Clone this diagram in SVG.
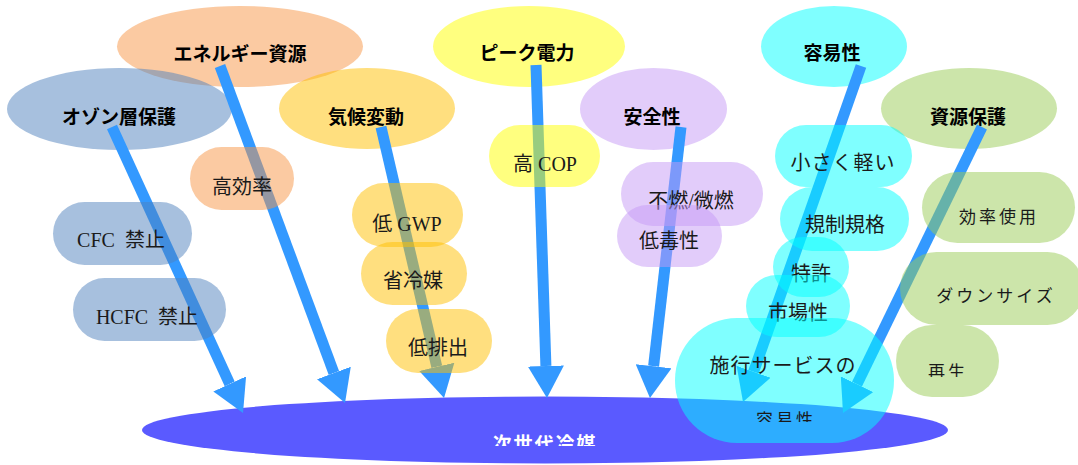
<svg xmlns="http://www.w3.org/2000/svg" width="1078" height="465" viewBox="0 0 1078 465">
<style>
.t{font-family:"Noto Sans CJK JP","Noto Sans",sans-serif;font-weight:bold;font-size:19px;fill:#000;text-anchor:middle}
.p{font-family:"Liberation Serif","Noto Sans CJK JP",serif;font-size:20px;fill:#1a1a1a;text-anchor:middle}
.s{font-family:"Liberation Serif","Noto Sans CJK JP",serif;font-size:17px;fill:#1a1a1a;text-anchor:middle;letter-spacing:3px}
.org{fill:#F79646;opacity:.5}
.blu{fill:#4F81BD;opacity:.5}
.gld{fill:#FFC000;opacity:.5}
.yel{fill:#FFFF00;opacity:.5}
.pur{fill:#C69AF5;opacity:.5}
.cya{fill:#00FFFF;opacity:.5}
.grn{fill:#99CC55;opacity:.5}
.arr{stroke:#3399FF;stroke-width:11;fill:none;marker-end:url(#ah)}
</style>
<defs>
<marker id="ah" viewBox="0 0 10 10" refX="0" refY="5" markerUnits="userSpaceOnUse" markerWidth="32" markerHeight="36" orient="auto" preserveAspectRatio="none">
<path d="M0,0 L10,5 L0,10 z" fill="#3399FF"/>
</marker>
<clipPath id="c1"><rect x="0" y="0" width="1078" height="446"/></clipPath>
<clipPath id="c2"><rect x="0" y="0" width="1078" height="422"/></clipPath>
<clipPath id="c3"><rect x="0" y="0" width="1078" height="377"/></clipPath>
</defs>

<g id="energy"><ellipse class="org" cx="240" cy="46.5" rx="123" ry="40.5"/><text class="t" x="240" y="61">エネルギー資源</text></g>
<g id="ozone"><ellipse class="blu" cx="119.5" cy="109" rx="112.5" ry="41"/><text class="t" x="119" y="124">オゾン層保護</text></g>
<g id="climate"><ellipse class="gld" cx="367" cy="108.5" rx="88" ry="40.5"/><text class="t" x="366" y="124">気候変動</text></g>
<g id="peak"><ellipse class="yel" cx="529" cy="46.5" rx="96" ry="40.5"/><text class="t" x="527" y="60">ピーク電力</text></g>
<g id="safety"><ellipse class="pur" cx="653.5" cy="109" rx="73.5" ry="41"/><text class="t" x="652" y="124">安全性</text></g>
<g id="ease"><ellipse class="cya" cx="834" cy="46.5" rx="73" ry="40.5"/><text class="t" x="832" y="60">容易性</text></g>
<g id="resource"><ellipse class="grn" cx="969" cy="108.5" rx="88" ry="40.5"/><text class="t" x="968" y="124">資源保護</text></g>

<g id="next-refrigerant"><ellipse cx="545" cy="430" rx="403" ry="33.5" fill="#5A5AFF"/><text class="t" x="545" y="451" style="fill:#fff;letter-spacing:2px" clip-path="url(#c1)">次世代冷媒</text></g>

<g id="connectors">
<line class="arr" x1="112" y1="127" x2="229.7" y2="383.9"/>
<line class="arr" x1="220" y1="66" x2="333.9" y2="373"/>
<line class="arr" x1="381" y1="127" x2="436.8" y2="366.8"/>
<line class="arr" x1="536" y1="65" x2="545.9" y2="366"/>
<line class="arr" x1="681" y1="127" x2="653.6" y2="366.2"/>
<line class="arr" x1="861" y1="66" x2="753.6" y2="371.8"/>
<line class="arr" x1="982" y1="127" x2="857" y2="384.2"/>
</g>

<g id="high-eff"><rect class="org" x="190" y="147" width="104" height="63" rx="31.5"/><text class="p" x="242" y="194">高効率</text></g>
<g id="cfc"><rect class="blu" x="53" y="202" width="139" height="63" rx="31.5"/><text class="p" x="121" y="247" xml:space="preserve">CFC  禁止</text></g>
<g id="hcfc"><rect class="blu" x="73" y="278" width="153" height="63" rx="31.5"/><text class="p" x="147" y="324" xml:space="preserve">HCFC  禁止</text></g>
<g id="low-gwp"><rect class="gld" x="352" y="183" width="111" height="64" rx="32"/><text class="p" x="407" y="231">低 GWP</text></g>
<g id="less-ref"><rect class="gld" x="361" y="242" width="106" height="63" rx="31.5"/><text class="p" x="413" y="288">省冷媒</text></g>
<g id="low-emit"><rect class="gld" x="386" y="309" width="106" height="64" rx="32"/><text class="p" x="438" y="355">低排出</text></g>
<g id="high-cop"><rect class="yel" x="489" y="125" width="111" height="62" rx="31"/><text class="p" x="545" y="171">高 COP</text></g>
<g id="nonflam"><rect class="pur" x="621" y="162" width="142" height="64" rx="32"/><text class="p" x="691" y="208">不燃/微燃</text></g>
<g id="low-tox"><rect class="pur" x="617" y="205" width="105" height="62" rx="31"/><text class="p" x="669" y="248">低毒性</text></g>
<g id="small"><rect class="cya" x="775" y="125" width="137" height="62" rx="31"/><text class="p" x="843" y="170" style="letter-spacing:1px">小さく軽い</text></g>
<g id="regulation"><rect class="cya" x="780" y="187" width="129" height="64" rx="32"/><text class="p" x="845" y="232">規制規格</text></g>
<g id="patent"><rect class="cya" x="773" y="237" width="76" height="60" rx="30"/><text class="p" x="811" y="281">特許</text></g>
<g id="market"><rect class="cya" x="746" y="275" width="104" height="62" rx="31"/><text class="p" x="798" y="320">市場性</text></g>
<g id="service"><rect class="cya" x="675" y="318" width="219" height="125" rx="62"/><text class="p" x="783" y="373" style="letter-spacing:1px">施行サービスの</text><text class="s" x="786" y="426" clip-path="url(#c2)">容易性</text></g>
<g id="eff-use"><rect class="grn" x="922" y="172" width="153" height="71" rx="35.5"/><text class="s" x="999" y="223">効率使用</text></g>
<g id="downsize"><rect class="grn" x="900" y="252" width="184" height="73" rx="36.5"/><text class="s" x="996" y="302">ダウンサイズ</text></g>
<g id="recycle"><rect class="grn" x="896" y="325" width="103" height="72" rx="36"/><text class="s" x="948" y="378" clip-path="url(#c3)">再生</text></g>
</svg>
